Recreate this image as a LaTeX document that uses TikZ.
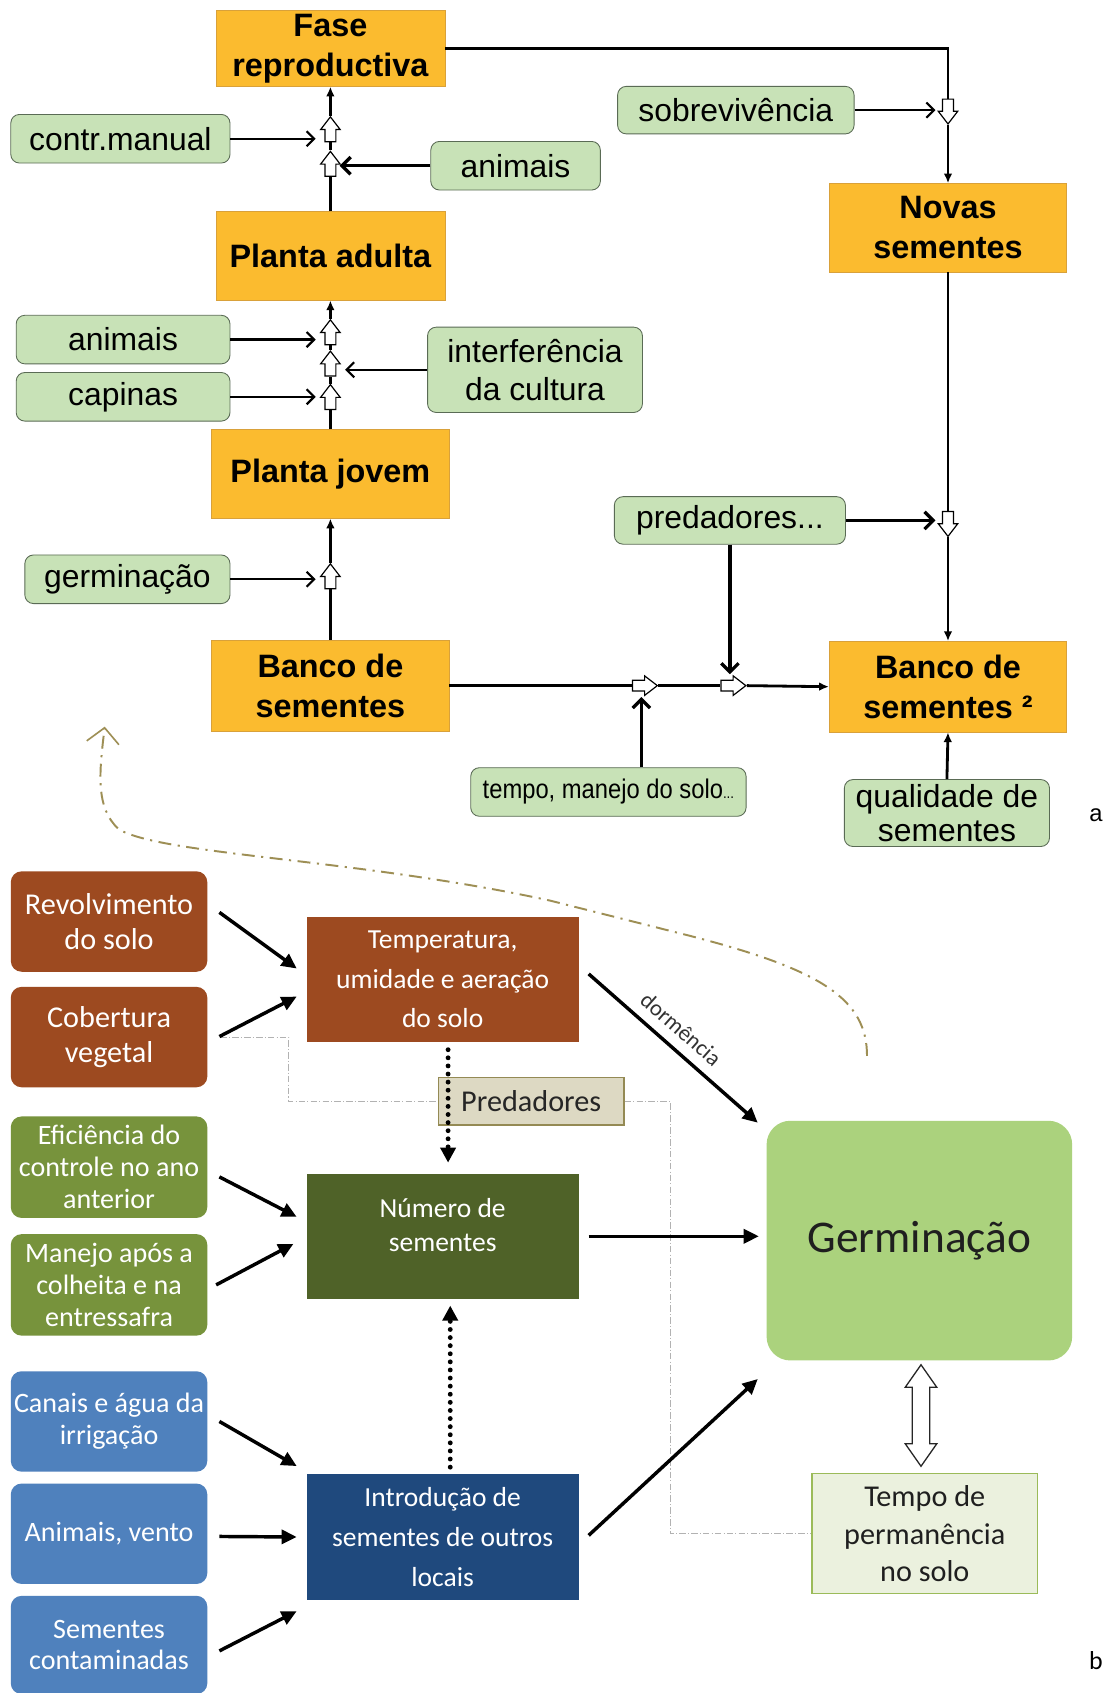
\documentclass[tikz,border=0pt]{standalone}
\usepackage{fontspec}
\setmainfont{Liberation Sans}
\newfontfamily\calfont{Carlito}
\newfontfamily\narrowfont[FakeStretch=0.88]{Liberation Sans}
\usetikzlibrary{arrows.meta,shapes.arrows,calc}
\newcommand\fsz[2]{\fontsize{#1}{#2}\selectfont}
\definecolor{orfill}{HTML}{FBBB2F}
\definecolor{ordraw}{HTML}{D9A13A}
\definecolor{gfill}{HTML}{C8E2B7}
\definecolor{gdraw}{HTML}{5A6B55}
\definecolor{cbrown}{HTML}{9D4A20}
\definecolor{colive}{HTML}{77933C}
\definecolor{cdolive}{HTML}{4F6228}
\definecolor{cblue}{HTML}{4F81BD}
\definecolor{cdblue}{HTML}{1F497D}
\definecolor{cgerm}{HTML}{ABD27D}
\definecolor{ctfill}{HTML}{EBF1DE}
\definecolor{ctdraw}{HTML}{9BBB59}
\definecolor{cpfill}{HTML}{DDD9C3}
\definecolor{cpdraw}{HTML}{948A54}
\definecolor{ccurve}{HTML}{9E8F55}
\tikzset{
 sz/.style 2 args={minimum width=#1, minimum height=#2},
 obox/.style={draw=ordraw, fill=orfill, line width=0.6, align=center, inner sep=0, font=\bfseries\fsz{30}{37}},
 gbox/.style={draw=gdraw, fill=gfill, rounded corners=8, line width=0.8, align=center, inner sep=0, font=\fsz{29.5}{35}},
 hol/.style={single arrow, draw=black, fill=white, line width=1.1, minimum height=23, minimum width=17, single arrow head extend=4, single arrow tip angle=75, inner sep=4.5},
 hup/.style={hol, shape border rotate=90},
 hdown/.style={hol, shape border rotate=270},
 hright/.style={hol, shape border rotate=0},
 mainl/.style={line width=2.6},
 mainar/.style={line width=2.6, -{Latex[length=9,width=8]}},
 side/.style={line width=2, -{Straight Barb[length=7,width=14]}},
 sidebig/.style={line width=3, -{Straight Barb[length=8,width=16]}},
 lbox/.style={rounded corners=10, text=white, align=center, inner sep=0, font=\calfont\fsz{26}{29.5}},
 mbox/.style={text=white, align=center, inner sep=0, font=\calfont\fsz{25.5}{37}},
 bar/.style={line width=3.2, -{Triangle[length=14,width=13]}},
 dotar/.style={line width=4.5, line cap=round, dash pattern=on 0 off 7.5, -{Triangle[length=14,width=14]}},
 thinline/.style={draw=black!30, line width=0.7, dash pattern=on 6 off 2 on 1 off 2},
}
\begin{document}
\begin{tikzpicture}[x=1pt,y=-1pt]
\clip (0,0) rectangle (1022,1568);
\fill[white] (0,0) rectangle (1022,1568);

% ---------- part a ----------
\node[obox, sz={212}{70}] (fr) at (306,45) {Fase\\reproductiva};
\node[obox, sz={212}{82}] (pa) at (306,237) {Planta adulta};
\node[obox, sz={220}{82}] (pj) at (306,439) {Planta jovem};
\node[obox, sz={220}{84}] (bs) at (306,635) {Banco de\\sementes};
\node[obox, sz={219}{82}] (ns) at (878,211) {Novas\\sementes};
\node[obox, sz={220}{84}] (b2) at (878,636) {Banco de\\sementes ²};

\node[gbox, sz={203}{45}] (cm) at (111.5,128.5) {contr.manual};
\node[gbox, sz={157}{45}] (an1) at (477.5,153.5) {animais};
\node[gbox, sz={219}{44}] (sob) at (681.5,102) {sobrevivência};
\node[gbox, sz={198}{45}] (an2) at (114,314.5) {animais};
\node[gbox, sz={198}{45}] (cap) at (114,367.5) {capinas};
\node[gbox, sz={199}{79}] (inf) at (495.5,342.5) {interferência\\da cultura};
\node[gbox, sz={190}{45}] (ger) at (118,536.5) {germinação};
\node[gbox, sz={214}{44}] (pred) at (676,482) {predadores...};
\node[gbox, sz={255}{45}, font=\narrowfont\fsz{25}{30}] (tmp) at (563.5,733.5) {tempo, manejo do solo{\fsz{14}{14}...}};
\node[gbox, sz={190}{62}, font=\fsz{29.5}{32}] (qual) at (877,753) {qualidade de\\sementes};

\node[hup] (hf1) at (306,123) {};
\node[hup] (hf2) at (306,155) {};
\node[hup] (hp1) at (306,311) {};
\node[hup] (hp2) at (306,340) {};
\node[hup] (hp3) at (306,371) {};
\node[hup] (hj) at (306,537) {};
\node[hdown] (hr1) at (878,100) {};
\node[hdown] (hr2) at (878,482) {};
\node[hright] (hb1) at (594,635) {};
\node[hright] (hb2) at (676,635) {};

\draw[mainl] (pa.north) -- (hf2.tail);
\draw[mainl] (hf2.tip) -- (hf1.tail);
\draw[mainar] (hf1.tip) -- (fr.south);
\draw[mainl] (pj.north) -- (hp3.tail);
\draw[mainl] (hp3.tip) -- (hp2.tail);
\draw[mainl] (hp2.tip) -- (hp1.tail);
\draw[mainar] (hp1.tip) -- (pa.south);
\draw[mainl] (bs.north) -- (hj.tail);
\draw[mainar] (hj.tip) -- (pj.south);
\draw[mainl] (fr.east) -| (hr1.tail);
\draw[mainar] (hr1.tip) -- (ns.north);
\draw[mainl] (ns.south) -- (hr2.tail);
\draw[mainar] (hr2.tip) -- (b2.north);
\draw[mainl] (bs.east) -- (hb1.tail);
\draw[mainl] (hb1.tip) -- (hb2.tail);
\draw[mainar] (hb2.tip) -- (b2.west);

\draw[side] (cm.east) -- (cm.east -| hf1.west) [shorten >=8];
\draw[sidebig] (an1.west) -- (an1.west -| hf2.east) [shorten >=3];
\draw[side] (an2.east) -- (an2.east -| hp1.west) [shorten >=8];
\draw[side] (cap.east) -- (cap.east -| hp3.west) [shorten >=8];
\draw[side] (inf.west) -- (inf.west -| hp2.east) [shorten >=8];
\draw[side] (ger.east) -- (ger.east -| hj.west) [shorten >=8];
\draw[side] (sob.east) -- (sob.east -| hr1.west) [shorten >=6];
\draw[sidebig] (pred.east) -- (pred.east -| hr2.west) [shorten >=6];
\draw[sidebig] (pred.south) -- (pred.south |- hb2.north) [shorten >=5];
\draw[sidebig] (hb1.south |- tmp.north) -- (hb1.south) [shorten >=5];
\draw[mainar] (qual.north) -- (b2.south);

\node[font=\fsz{22}{24}] (la) at (1015,755) {a};

% ---------- part b ----------
\node[lbox, fill=cbrown, sz={182}{93}, font=\calfont\fsz{28}{32}] (rev) at (101,853.5) {Revolvimento\\do solo};
\node[lbox, fill=cbrown, sz={182}{93}, font=\calfont\fsz{28}{32}] (cob) at (101,960.5) {Cobertura\\vegetal};
\node[lbox, fill=colive, sz={182}{94}] (efi) at (101,1081) {Eficiência do\\controle no ano\\anterior};
\node[lbox, fill=colive, sz={182}{94}] (man) at (101,1190) {Manejo após a\\colheita e na\\entressafra};
\node[lbox, fill=cblue, sz={182}{93}] (can) at (101,1316.5) {Canais e água da\\irrigação};
\node[lbox, fill=cblue, sz={182}{93}] (anv) at (101,1420.5) {Animais, vento};
\node[lbox, fill=cblue, sz={182}{91}] (sem) at (101,1523.5) {Sementes\\contaminadas};

\node[mbox, fill=cbrown, sz={252}{116}] (temp) at (410,907) {Temperatura,\\umidade e aeração\\do solo};
\node[mbox, fill=cdolive, sz={252}{116}, label={[mbox, yshift=10.5, font=\calfont\fsz{25.5}{31}]center:Número de\\sementes}] (num) at (410,1145) {};
\node[mbox, fill=cdblue, sz={252}{117}] (intro) at (410,1423.5) {Introdução de\\sementes de outros\\locais};
\node[draw=cpdraw, fill=cpfill, line width=1.2, sz={172}{44}, inner sep=0, font=\calfont\fsz{28}{30}, text=black!85] (predb) at (492,1020) {Predadores};
\node[fill=cgerm, rounded corners=22, sz={283}{222}, inner sep=0, font=\calfont\fsz{42}{44}, text=black!88] (germ) at (851.5,1149) {Germinação};
\node[draw=ctdraw, fill=ctfill, line width=1.2, sz={209}{111}, inner sep=0, align=center, font=\calfont\fsz{28}{35}, text=black!88] (tps) at (856.5,1420.5) {Tempo de\\permanência\\no solo};

\node[double arrow, draw=black!85, fill=white, line width=1.2, shape border rotate=90, minimum height=94, minimum width=28, double arrow head extend=6.5, double arrow tip angle=70, inner sep=7.5] (dar) at (853,1311) {};

\draw[thinline] ([xshift=12]cob.east) -- ++(63,0) |- (predb.west);
\draw[thinline] (predb.east) -- ++(42,0) |- (tps.west);

\draw[bar] ($(rev.east)+(11,-8.5)$) -- ($(temp.west)+(-9,-10)$);
\draw[bar] ($(cob.east)+(11,-0.5)$) -- ($(temp.west)+(-9,16)$);
\draw[bar] ($(temp.east)+(9,-5)$) -- node[sloped, above=6, pos=0.47, font=\calfont\fsz{21}{22}, text=black!80] {dormência} ($(germ.north west)+(-8,2)$);
\draw[dotar] ($(temp.south)+(5,7)$) -- ($(num.north)+(5,-10)$);
\draw[bar] ($(efi.east)+(11,9)$) -- ($(num.west)+(-9,-18)$);
\draw[bar] ($(man.east)+(8,0)$) -- ($(num.west)+(-12,7)$);
\draw[bar] ($(num.east)+(9,0)$) -- ($(germ.west)+(-7,-4)$);
\draw[dotar] ($(intro.north)+(7,-6)$) -- ($(num.south)+(7,6)$);
\draw[bar] ($(can.east)+(11,0)$) -- ($(intro.north west)+(-9,-7)$);
\draw[bar] ($(anv.east)+(11,2.5)$) -- ($(intro.west)+(-9,0)$);
\draw[bar] ($(sem.east)+(11,5.5)$) -- ($(intro.south west)+(-9,10)$);
\draw[bar] ($(intro.east)+(9,-1.5)$) -- ($(germ.south west)+(-8,17)$);

\coordinate (cs) at (803,978);
\coordinate (ce) at (97,673);
\draw[draw=ccurve, line width=1.8, dash pattern=on 12 off 6 on 2 off 6, -{Straight Barb[length=14,width=30,line width=1.5]}]
  (cs) .. controls (803,925) and (760,898) .. (640,867) -- (509,834)
  .. controls (330,795) and (150,792) .. (110,768)
  .. controls (88,748) and (92,715) .. (ce);

\node[font=\calfont\fsz{24}{26}] (lb) at (1015,1538) {b};
\end{tikzpicture}
\end{document}
